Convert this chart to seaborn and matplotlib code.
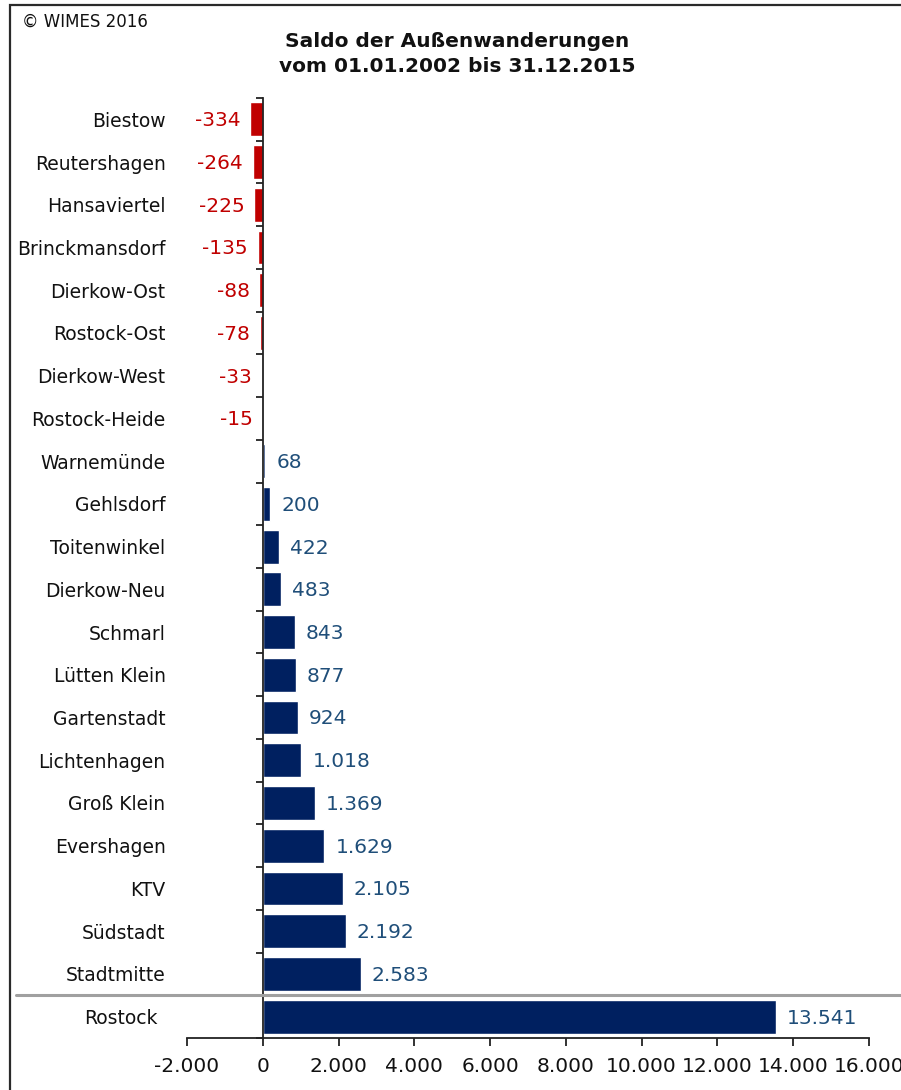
import matplotlib
matplotlib.use("Agg")
import matplotlib.pyplot as plt
import matplotlib.transforms as mtransforms
from matplotlib.lines import Line2D
from matplotlib.patches import Rectangle
from matplotlib.ticker import FuncFormatter, FixedLocator
import seaborn as sns
import pandas as pd

# Net external migration per district, 2002-2015
districts = ["Biestow", "Reutershagen", "Hansaviertel", "Brinckmansdorf", "Dierkow-Ost",
             "Rostock-Ost", "Dierkow-West", "Rostock-Heide", "Warnemünde", "Gehlsdorf",
             "Toitenwinkel", "Dierkow-Neu", "Schmarl", "Lütten Klein", "Gartenstadt",
             "Lichtenhagen", "Groß Klein", "Evershagen", "KTV", "Südstadt", "Stadtmitte",
             "Rostock"]
saldo = [-334, -264, -225, -135, -88, -78, -33, -15, 68, 200, 422, 483, 843, 877, 924,
         1018, 1369, 1629, 2105, 2192, 2583, 13541]
x_ticks = [-2000, 0, 2000, 4000, 6000, 8000, 10000, 12000, 14000, 16000]

title = "Saldo der Außenwanderungen\nvom 01.01.2002 bis 31.12.2015"
copyright_note = "© WIMES 2016"

NEG_BAR, POS_BAR = "#C00000", "#002060"
NEG_TXT, POS_TXT = "#C00000", "#1F4E79"
INK = "#111111"

sns.set_theme(style="white")
plt.rcParams["font.family"] = ["DejaVu Sans"]

W, H, DPI = 901, 1090, 100
fig = plt.figure(figsize=(W / DPI, H / DPI), dpi=DPI)
ax = fig.add_axes([187 / W, 1 - 1038 / H, (869 - 187) / W, (1038 - 98) / H])

df = pd.DataFrame({"Stadtteil": districts, "Saldo": saldo})
palette = {d: (NEG_BAR if v < 0 else POS_BAR) for d, v in zip(districts, saldo)}
sns.barplot(data=df, x="Saldo", y="Stadtteil", hue="Stadtteil", palette=palette,
            orient="h", width=0.79, legend=False, saturation=1, ax=ax)

ax.set_xlim(x_ticks[0], x_ticks[-1])
ax.set_ylim(len(districts) - 0.5, -0.5)
ax.set_xlabel("")
ax.set_ylabel("")

# Axes styling
for side in ("top", "right"):
    ax.spines[side].set_visible(False)
ax.spines["left"].set_position(("data", 0))
for side in ("left", "bottom"):
    ax.spines[side].set_color("#222222")
    ax.spines[side].set_linewidth(1.3)

ax.xaxis.set_major_locator(FixedLocator(x_ticks))
ax.xaxis.set_major_formatter(FuncFormatter(lambda v, p: f"{int(v):,}".replace(",", ".")))
ax.tick_params(axis="x", which="major", bottom=True, direction="out", length=6, width=1.3,
               color="#222222", labelsize=14.5, pad=8, labelcolor=INK)
ax.tick_params(axis="x", which="minor", bottom=False, length=0)
ax.set_yticks(range(len(districts)))
ax.set_yticks([i - 0.5 for i in range(len(districts) + 1)], minor=True)
ax.tick_params(axis="y", which="major", left=True, length=0, pad=70, labelsize=13.5,
               labelcolor=INK)
ax.tick_params(axis="y", which="minor", left=True, direction="out", length=5, width=1.3,
               color="#222222")

# Total row label sits slightly left of the district names
rostock_label = ax.get_yticklabels()[-1]
rostock_label.set_transform(rostock_label.get_transform() +
                            mtransforms.ScaledTranslation(-8 / DPI, 0, fig.dpi_scale_trans))

# Value labels
for i, v in enumerate(saldo):
    txt = f"{v:,}".replace(",", ".")
    if v < 0:
        ax.annotate(txt, (v, i), xytext=(-7, -1), textcoords="offset points",
                    ha="right", va="center", color=NEG_TXT, fontsize=14.5)
    else:
        ax.annotate(txt, (v, i), xytext=(8, -1), textcoords="offset points",
                    ha="left", va="center", color=POS_TXT, fontsize=14.5)

# Separator above the city total
sep_tf = mtransforms.blended_transform_factory(fig.transFigure, ax.transData)
fig.add_artist(Line2D([16 / W, 1.0], [len(districts) - 1.5] * 2, transform=sep_tf,
                      color="#A0A0A0", lw=2.2))

# Outer frame
fig.add_artist(Rectangle((9.5 / W, -0.05), 1.2, 1.05 - 5 / H, transform=fig.transFigure,
                         fill=False, edgecolor="#2a2a2a", lw=1.6))

fig.text(457 / W, 1 - 54 / H, title, ha="center", va="center", fontsize=14.5,
         fontweight="bold", color=INK, linespacing=1.35)
fig.text(22 / W, 1 - 22 / H, copyright_note, ha="left", va="center", fontsize=12,
         color=INK)

fig.savefig("out.png", dpi=DPI)
